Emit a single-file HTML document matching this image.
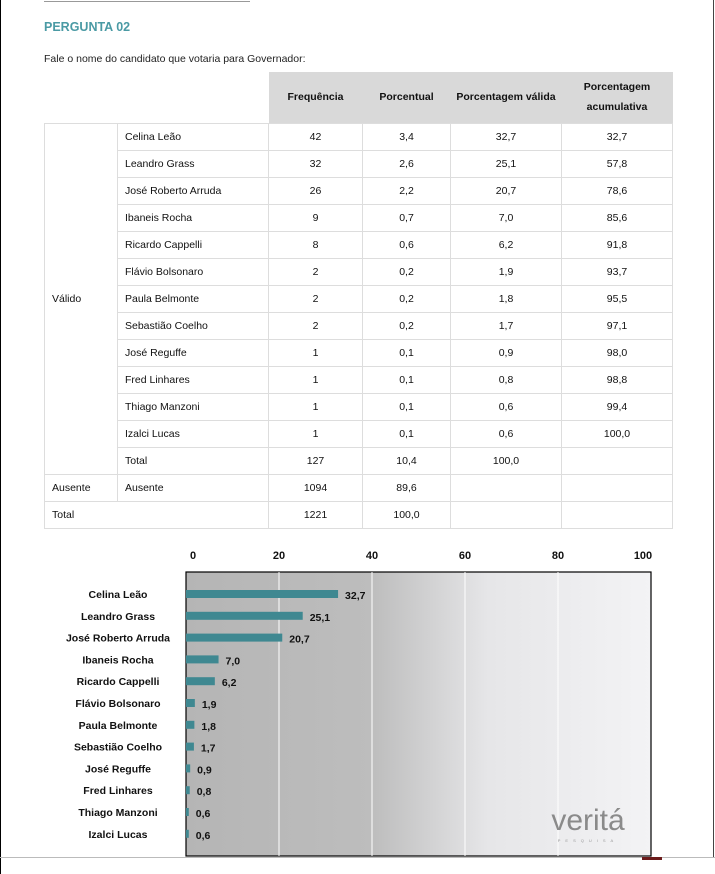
<!DOCTYPE html>
<html><head><meta charset="utf-8"><style>
body{margin:0;width:715px;height:874px;position:relative;background:#fff;font-family:"Liberation Sans",sans-serif;overflow:hidden}
.a{position:absolute}
table{position:absolute;left:44px;top:72px;border-collapse:collapse;font-size:10.5px;color:#111}
td{border:1px solid #ddd;height:27px;padding:0;box-sizing:border-box}
td.c{text-align:center}
td.l{padding-left:7px}
.h{background:#d9d9d9;font-weight:bold;text-align:center;border:none}
.n{border:none}
</style></head><body>
<div class="a" style="left:0;top:0;width:1px;height:874px;background:#000"></div>
<div class="a" style="left:713px;top:0;width:1px;height:858px;background:#444"></div>
<div class="a" style="left:44px;top:1px;width:206px;height:1px;background:#999"></div>
<div class="a" style="left:0;top:857px;width:715px;height:1px;background:#bbb"></div>
<div class="a" style="left:642px;top:857px;width:20px;height:3px;background:#6b1b1b"></div>
<div class="a" style="left:44px;top:20px;font-size:12.5px;font-weight:bold;color:#4a9aa4">PERGUNTA 02</div>
<div class="a" style="left:44px;top:53px;font-size:10.5px;color:#222">Fale o nome do candidato que votaria para Governador:</div>
<table>
<colgroup><col style="width:73px"><col style="width:151px"><col style="width:94px"><col style="width:88px"><col style="width:111px"><col style="width:111px"></colgroup>
<tr style="height:51px"><td class="n" style="height:51px"></td><td class="n"></td><td class="h" style="height:51px">Frequência</td><td class="h">Porcentual</td><td class="h">Porcentagem válida</td><td class="h" style="line-height:20px">Porcentagem<br>acumulativa</td></tr>
<tbody id="tb"></tbody>
</table>
<script>
const names=["Celina Leão","Leandro Grass","José Roberto Arruda","Ibaneis Rocha","Ricardo Cappelli","Flávio Bolsonaro","Paula Belmonte","Sebastião Coelho","José Reguffe","Fred Linhares","Thiago Manzoni","Izalci Lucas"];
const freq=[42,32,26,9,8,2,2,2,1,1,1,1];
const pct=["3,4","2,6","2,2","0,7","0,6","0,2","0,2","0,2","0,1","0,1","0,1","0,1"];
const valid=[32.7,25.1,20.7,7.0,6.2,1.9,1.8,1.7,0.9,0.8,0.6,0.6];
const cum=["32,7","57,8","78,6","85,6","91,8","93,7","95,5","97,1","98,0","98,8","99,4","100,0"];
const ticks=[0,20,40,60,80,100];
const fmt=v=>v.toFixed(1).replace('.',',');
let h='';
names.forEach((n,i)=>{h+='<tr>'+(i==0?'<td class="l" rowspan="13">Válido</td>':'')+`<td class="l">${n}</td><td class="c">${freq[i]}</td><td class="c">${pct[i]}</td><td class="c">${fmt(valid[i])}</td><td class="c">${cum[i]}</td></tr>`;});
h+='<tr><td class="l">Total</td><td class="c">127</td><td class="c">10,4</td><td class="c">100,0</td><td></td></tr>';
h+='<tr><td class="l">Ausente</td><td class="l">Ausente</td><td class="c">1094</td><td class="c">89,6</td><td></td><td></td></tr>';
h+='<tr><td class="l" colspan="2">Total</td><td class="c">1221</td><td class="c">100,0</td><td></td><td></td></tr>';
document.getElementById('tb').innerHTML=h;
</script>
<svg class="a" style="left:0;top:0" width="715" height="874">
<defs><linearGradient id="g" x1="0" x2="1"><stop offset="0" stop-color="#b5b5b5"/><stop offset="0.4" stop-color="#bdbdbd"/><stop offset="0.65" stop-color="#e6e6e8"/><stop offset="1" stop-color="#f3f3f5"/></linearGradient></defs>
<rect x="186" y="572" width="465" height="284" fill="url(#g)" stroke="#000" stroke-width="1.2"/>
<g id="ch"></g>
<text x="588" y="830" font-size="30" fill="#8a8a8a" text-anchor="middle" font-family="Liberation Sans">veritá</text>
<text x="588" y="842" font-size="4" fill="#999" text-anchor="middle" letter-spacing="5">PESQUISA</text>
</svg>
<script>
const ns="http://www.w3.org/2000/svg",g=document.getElementById('ch');
const x0=186,x1=651,yT=594,dy=21.8;
const X=v=>x0+(x1-x0)*v/100, Y=i=>yT+dy*i;
function mk(t,a,txt){const e=document.createElementNS(ns,t);for(const k in a)e.setAttribute(k,a[k]);if(txt!=null)e.textContent=txt;g.appendChild(e);return e;}
ticks.forEach(t=>{
 if(t>0&&t<100){const l=mk('line',{x1:X(t),x2:X(t),y1:572,y2:856,stroke:'#fff','stroke-width':1});
 
 }
 const tx=mk('text',{x:X(t)+(t==0?7:t==100?-8:0),y:559,'font-size':11,'font-weight':'bold','text-anchor':'middle',fill:'#111'},t);
 
 
});
names.forEach((n,i)=>{
 const y=Y(i);
 const lb=mk('text',{x:118,y:y+4,'font-size':10.5,'font-weight':'bold','text-anchor':'middle',fill:'#111'},n);
 
 
 const r=mk('rect',{x:x0,y:y-4,width:X(valid[i])-x0,height:8,fill:'#3f8891'});
 
 
 const v=mk('text',{x:X(valid[i])+7,y:y+5,'font-size':10.5,'font-weight':'bold',fill:'#111'},fmt(valid[i]));
 
 
});
</script>
</body></html>
